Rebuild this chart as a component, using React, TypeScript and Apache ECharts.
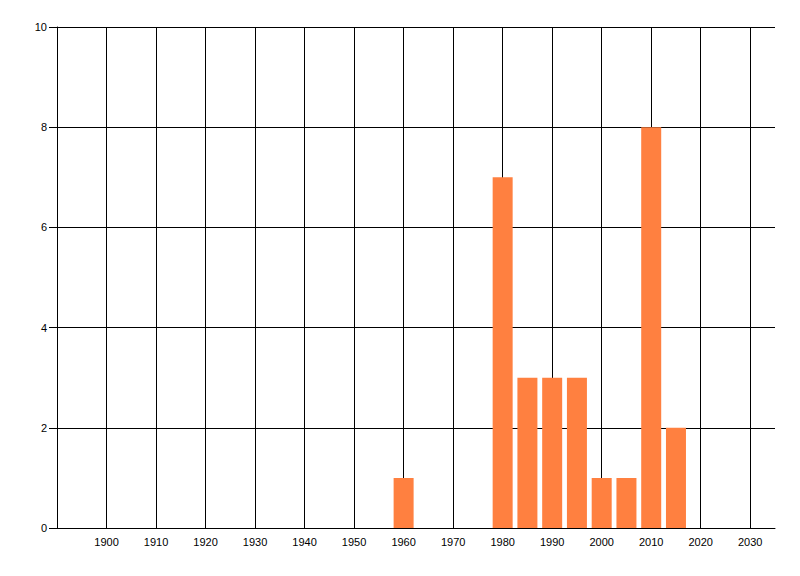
import React, { useEffect, useRef } from "react";
import * as echarts from "echarts";

const years = [1960, 1980, 1985, 1990, 1995, 2000, 2005, 2010, 2015];
const counts = [1, 7, 3, 3, 3, 1, 1, 8, 2];

export default function App() {
  const ref = useRef<HTMLDivElement>(null);
  useEffect(() => {
    const chart = echarts.init(ref.current!, null, { renderer: "svg" });
    chart.setOption({
      animation: false,
      backgroundColor: "#ffffff",
      grid: { left: 57, right: 25, top: 27, bottom: 48, containLabel: false },
      xAxis: {
        type: "value",
        min: 1890,
        max: 2035,
        interval: 10,
        axisLine: { show: true, lineStyle: { color: "#000", width: 1 } },
        axisTick: { show: false },
        axisLabel: {
          color: "#000",
          fontSize: 11,
          fontFamily: "Liberation Sans, Arial, sans-serif",
          showMinLabel: false,
          showMaxLabel: false,
          margin: 8,
          formatter: (v: number) => String(v),
        },
        splitLine: {
          show: true,
          showMinLine: false,
          showMaxLine: false,
          lineStyle: { color: "#000", width: 1 },
        },
      },
      yAxis: {
        type: "value",
        min: 0,
        max: 10,
        interval: 2,
        axisLine: { show: true, lineStyle: { color: "#000", width: 1 } },
        axisTick: { show: true, length: 8, lineStyle: { color: "#000" } },
        axisLabel: {
          color: "#000",
          fontSize: 11,
          fontFamily: "Liberation Sans, Arial, sans-serif",
          margin: 10,
        },
        splitLine: { show: true, lineStyle: { color: "#000", width: 1 } },
      },
      series: [
        {
          type: "bar",
          data: years.map((y, i) => [y, counts[i]]),
          barWidth: 20,
          itemStyle: { color: "#FF8040" },
        },
      ],
    });
    return () => chart.dispose();
  }, []);
  return <div ref={ref} style={{ width: 800, height: 576, position: "absolute", left: 0, top: 0 }} />;
}
